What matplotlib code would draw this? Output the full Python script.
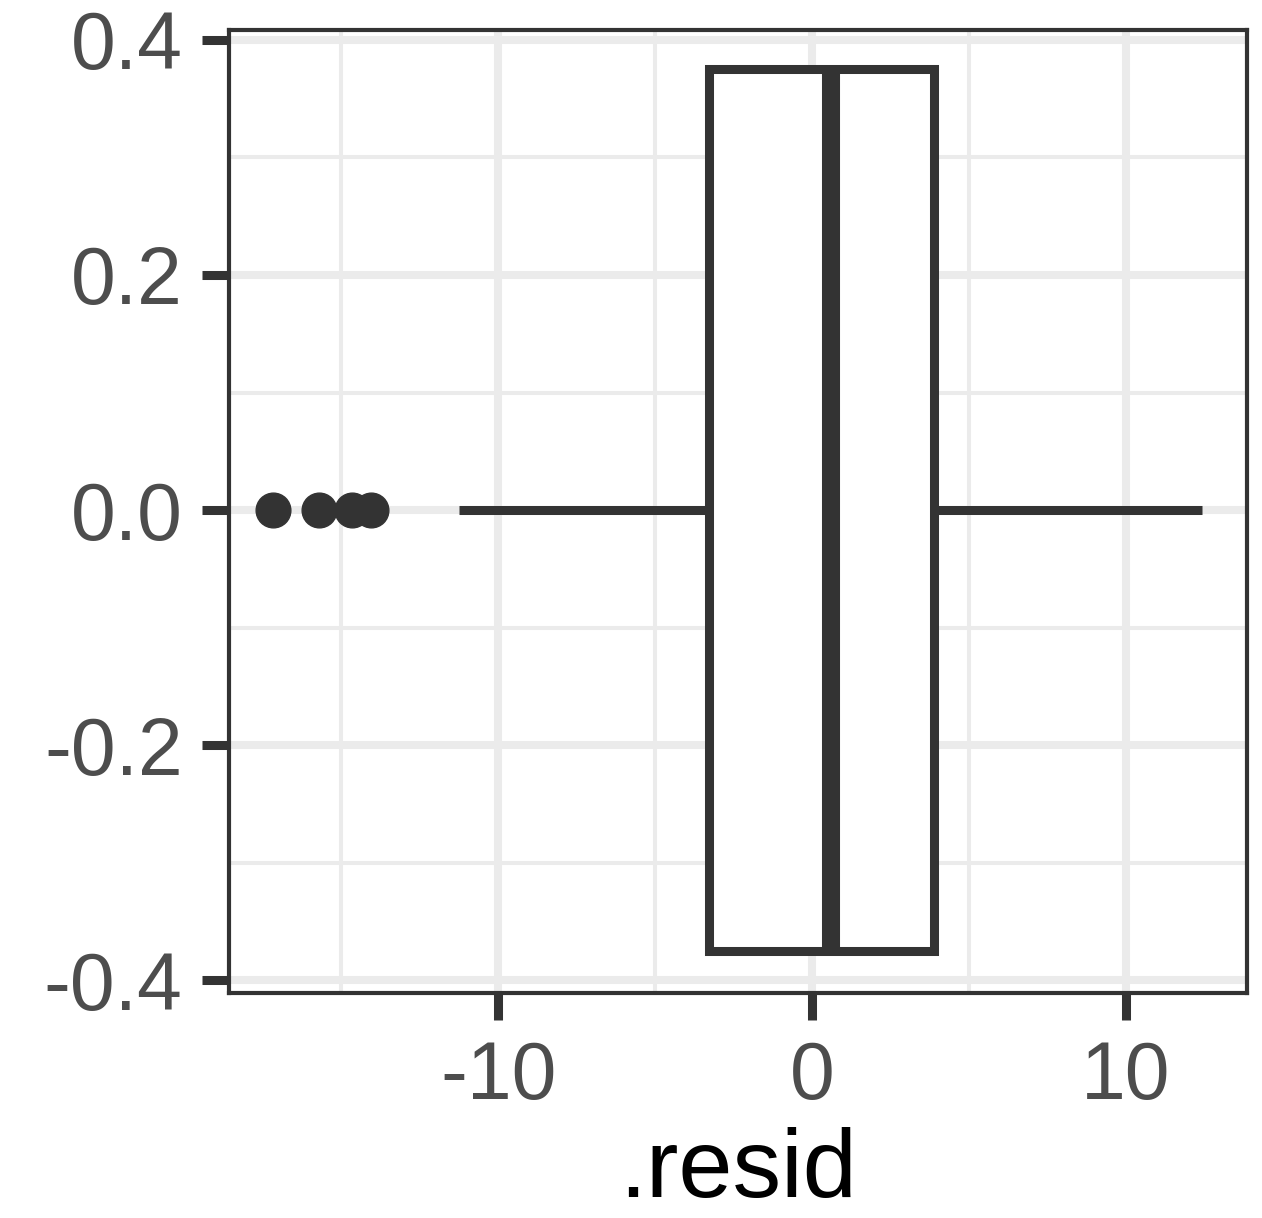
import numpy as np
import matplotlib.pyplot as plt

plt.rcParams['font.family'] = ['Liberation Sans', 'DejaVu Sans']

# box summary
q1 = -3.28
median = 0.6
q3 = 3.89
whisker_lo = -11.24
whisker_hi = 12.42
outliers = [-17.17, -15.7, -14.65, -14.04]

x_ticks = [-10, 0, 10]
y_ticks = [-0.4, -0.2, 0.0, 0.2, 0.4]
y_labels = ['-0.4', '-0.2', '0.0', '0.2', '0.4']

dark = '#333333'
grid_c = '#EBEBEB'

fig = plt.figure(figsize=(12.62, 12.18), dpi=100)
ax = fig.add_axes([0.1815, 0.1847, 0.8065, 0.7907])

stats = [{'med': median, 'q1': q1, 'q3': q3,
          'whislo': whisker_lo, 'whishi': whisker_hi,
          'fliers': np.array(outliers)}]
ax.bxp(stats, positions=[0], widths=0.75, orientation='horizontal',
       showcaps=False, patch_artist=True,
       boxprops=dict(facecolor='white', edgecolor=dark, linewidth=6.5),
       whiskerprops=dict(color=dark, linewidth=6.5, solid_capstyle='butt'),
       medianprops=dict(color=dark, linewidth=13, solid_capstyle='butt'),
       flierprops=dict(marker='o', markerfacecolor=dark, markeredgecolor=dark,
                       markersize=25, linestyle='none'),
       zorder=3)

ax.set_xlim(-18.57, 13.85)
ax.set_ylim(-0.411, 0.4085)
ax.set_xticks(x_ticks)
ax.set_xticklabels([str(t) for t in x_ticks])
ax.set_yticks(y_ticks)
ax.set_yticklabels(y_labels)
ax.set_xticks([-15, -5, 5], minor=True)
ax.set_yticks([-0.3, -0.1, 0.1, 0.3], minor=True)

ax.grid(True, which='major', color=grid_c, linewidth=5.8, zorder=0)
ax.grid(True, which='minor', color=grid_c, linewidth=2.9, zorder=0)
ax.set_axisbelow(True)

ax.tick_params(which='major', length=19.5, width=6.5, color=dark,
               labelsize=58, labelcolor='#4D4D4D', pad=14)
ax.tick_params(which='minor', length=0)
for s in ax.spines.values():
    s.set_color(dark)
    s.set_linewidth(3)
    s.set_zorder(4)

ax.set_xlabel('.resid', fontsize=70, color='black', labelpad=8)
ax.set_ylabel('')

fig.savefig('out.png', dpi=100)
